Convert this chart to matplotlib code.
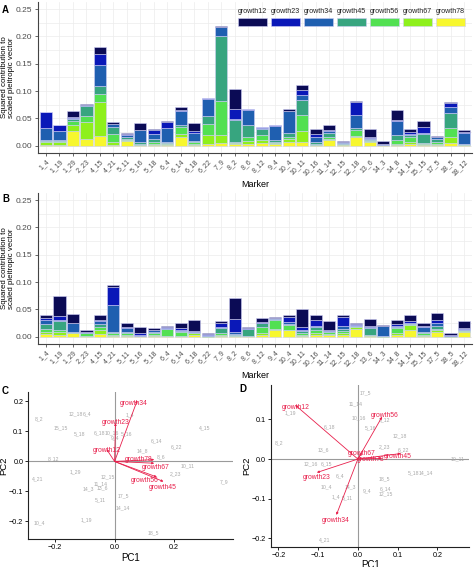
import numpy as np
import matplotlib
matplotlib.use('Agg')
import matplotlib.pyplot as plt
from matplotlib.patches import Rectangle
from matplotlib.ticker import MultipleLocator

plt.rcParams['font.family'] = ['Liberation Sans', 'DejaVu Sans']

markers = ['1_4', '1_19', '1_29', '2_23', '4_15', '4_21', '5_11', '5_16', '5_18', '6_4',
           '6_14', '6_18', '6_22', '7_9', '8_2', '8_6', '8_12', '9_4', '10_4', '10_11',
           '10_16', '11_14', '12_15', '12_18', '13_6', '14_3', '14_8', '14_14', '15_15',
           '17_5', '18_5', '18_12']
growth_names = ['growth12', 'growth23', 'growth34', 'growth45', 'growth56', 'growth67', 'growth78']
growth_cols = ['#0b0b55', '#0a18b8', '#1f5fb0', '#37a57f', '#52e052', '#8ef01c', '#f7f72e']

# panel A: squared contributions
a_g12 = [.001, .001, .011, .002, .013, .003, .002, .012, .003, .002, .006, .015, .001, .001, .036, .001,
         .001, .001, .004, .009, .008, .010, .001, .001, .015, .005, .019, .005, .010, .002, .002, .003]
a_g23 = [.028, .010, .002, .001, .021, .001, .001, .001, .007, .011, .001, .003, .002, .001, .018, .002,
         .001, .001, .001, .010, .006, .001, .001, .024, .002, .001, .001, .003, .011, .001, .007, .002]
a_g34 = [.022, .017, .002, .002, .038, .005, .004, .021, .008, .024, .027, .016, .030, .016, .002, .028,
         .002, .026, .040, .008, .010, .003, .001, .024, .002, .001, .027, .003, .002, .003, .012, .020]
a_g45 = [.002, .001, .004, .018, .015, .012, .004, .003, .006, .003, .002, .002, .016, .120, .040, .021,
         .012, .003, .008, .027, .002, .008, .001, .003, .002, .0005, .009, .003, .017, .005, .027, .001]
a_g56 = [.002, .002, .008, .010, .014, .015, .001, .002, .003, .002, .013, .002, .020, .061, .002, .008,
         .009, .002, .003, .030, .002, .003, .001, .012, .002, .0005, .006, .010, .002, .003, .017, .001]
a_g67 = [.005, .005, .010, .031, .062, .006, .002, .001, .002, .001, .006, .002, .016, .015, .002, .004,
         .005, .002, .005, .020, .001, .003, .002, .001, .001, .0005, .002, .003, .001, .002, .010, .001]
a_g78 = [.002, .002, .027, .013, .018, .001, .0085, .001, .002, .0015, .016, .002, .003, .005, .003, .004,
         .005, .003, .007, .007, .001, .010, .001, .016, .007, .0005, .002, .003, .0015, .002, .005, .0005]

# panel B
b_g12 = [.006, .036, .016, .003, .009, .002, .009, .012, .003, .002, .009, .020, .002, .002, .039, .001,
         .008, .001, .004, .033, .008, .017, .003, .002, .012, .002, .006, .012, .006, .012, .005, .013]
b_g23 = [.003, .008, .001, .001, .002, .034, .001, .003, .001, .002, .004, .001, .0005, .008, .024, .001,
         .001, .001, .009, .005, .012, .001, .017, .001, .002, .001, .005, .002, .002, .006, .001, .002]
b_g34 = [.008, .001, .016, .001, .006, .050, .008, .001, .003, .001, .002, .001, .002, .002, .003, .001,
         .001, .002, .004, .003, .001, .001, .006, .002, .002, .018, .002, .001, .010, .006, .0003, .001]
b_g45 = [.009, .017, .001, .001, .006, .002, .002, .0005, .003, .001, .001, .001, .001, .010, .001, .012,
         .008, .001, .002, .003, .006, .001, .004, .001, .012, .0005, .001, .001, .002, .004, .0003, .001]
b_g56 = [.005, .004, .001, .004, .005, .002, .002, .0005, .003, .012, .007, .001, .0003, .003, .002, .001,
         .010, .017, .008, .003, .005, .004, .004, .001, .001, .0003, .010, .002, .003, .003, .0003, .001]
b_g67 = [.004, .005, .001, .001, .007, .002, .002, .0005, .002, .001, .001, .002, .0003, .001, .001, .0005,
         .003, .002, .001, .002, .003, .002, .002, .003, .001, .0003, .003, .010, .001, .003, .0003, .002]
b_g78 = [.005, .003, .006, .001, .005, .002, .002, .0005, .001, .001, .001, .004, .0003, .002, .001, .0005,
         .004, .012, .012, .002, .004, .003, .004, .015, .002, .0003, .003, .012, .002, .009, .0003, .009]

# panel C biplot
c_pt_names = ['8_2', '12_18', '6_4', '15_15', '5_18', '6_18', '10_16', '5_16', '1_4', '9_4', '4_15',
              '6_14', '6_22', '14_8', '8_6', '8_12', '10_11', '2_23', '1_29', '4_21', '12_15',
              '11_14', '14_3', '13_6', '7_9', '5_11', '17_5', '14_14', '1_19', '10_4', '18_5']
c_pt_x = [-0.254, -0.13, -0.093, -0.18, -0.116, -0.049, -0.008, 0.04, 0.051, 0.003, 0.303,
          0.142, 0.207, 0.092, 0.157, -0.206, 0.244, 0.203, -0.133, -0.258, -0.024,
          -0.047, -0.089, -0.041, 0.367, -0.049, 0.029, 0.029, -0.093, -0.252, 0.129]
c_pt_y = [0.142, 0.158, 0.158, 0.111, 0.091, 0.094, 0.094, 0.092, 0.156, 0.078, 0.111,
          0.069, 0.05, 0.036, 0.017, 0.01, -0.013, -0.042, -0.036, -0.058, -0.052,
          -0.073, -0.092, -0.087, -0.067, -0.128, -0.114, -0.153, -0.194, -0.203, -0.237]
c_arr_x = [-0.027, 0.003, 0.076, 0.164, 0.142, 0.133, 0.133]
c_arr_y = [0.041, 0.128, 0.203, -0.067, -0.052, -0.006, 0.006]
c_lab_x = [-0.028, 0.003, 0.064, 0.161, 0.100, 0.138, 0.081]
c_lab_y = [0.036, 0.128, 0.194, -0.086, -0.064, -0.019, 0.006]

# panel D biplot
d_pt_names = ['17_5', '11_14', '1_19', '10_16', '8_12', '6_18', '5_16', '12_18', '8_2', '13_6',
              '2_23', '6_22', '12_16', '6_15', '10_11', '5_18', '14_14', '6_4', '10_4', '14_3',
              '9_4', '18_5', '6_14', '12_15', '1_4', '5_11', '4_21']
d_pt_x = [0.019, -0.006, -0.17, 0.003, 0.066, -0.071, 0.032, 0.105, -0.197, -0.086,
          0.066, 0.114, -0.118, -0.079, 0.25, 0.14, 0.17, -0.045, -0.079, -0.02,
          0.024, 0.066, 0.07, 0.07, -0.056, -0.027, -0.084]
d_pt_y = [0.167, 0.139, 0.117, 0.103, 0.1, 0.082, 0.08, 0.058, 0.041, 0.024,
          0.031, 0.023, -0.013, -0.013, 0.0, -0.034, -0.034, -0.043, -0.071, -0.07,
          -0.08, -0.049, -0.074, -0.088, -0.095, -0.097, -0.204]
d_arr_x = [-0.157, -0.103, -0.054, 0.108, 0.061, 0.010, 0.060]
d_arr_y = [0.136, -0.034, -0.141, 0.014, 0.107, 0.016, 0.002]
d_lab_x = [-0.157, -0.103, -0.056, 0.100, 0.068, 0.010, 0.032]
d_lab_y = [0.130, -0.047, -0.154, 0.006, 0.110, 0.013, -0.001]

red = '#e8204c'
grey_txt = '#a8a8a8'


def bar_panel(ax, series):
    x = np.arange(len(markers))
    bottom = np.zeros(len(markers))
    # growth78 sits at the bottom of each stack
    for vals, col in reversed(list(zip(series, growth_cols))):
        ax.bar(x, vals, 0.9, bottom=bottom, color=col, edgecolor='#cfcff5', linewidth=0.4, zorder=2)
        bottom += np.array(vals)
    ax.set_xlim(-0.6, len(markers) - 0.4)
    ax.set_ylim(-0.0125, 0.2625)
    ax.set_yticks([0, 0.05, 0.10, 0.15, 0.20, 0.25])
    ax.set_yticklabels(['0.00', '0.05', '0.10', '0.15', '0.20', '0.25'])
    ax.yaxis.set_minor_locator(MultipleLocator(0.025))
    ax.set_xticks(x)
    ax.set_xticklabels(markers, rotation=45, ha='right', rotation_mode='anchor', fontsize=5, color='#4d4d4d')
    ax.tick_params(axis='y', labelsize=6, colors='#4d4d4d', length=2.5, width=0.6, pad=1.5)
    ax.tick_params(axis='x', length=2.5, width=0.6, colors='#4d4d4d', pad=1.5)
    ax.tick_params(which='minor', length=0)
    ax.grid(which='both', color='#ececec', linewidth=0.5, zorder=0)
    ax.set_axisbelow(True)
    for s in ['top', 'right']:
        ax.spines[s].set_visible(False)
    for s in ['left', 'bottom']:
        ax.spines[s].set_color('#444444')
        ax.spines[s].set_linewidth(0.8)
    ax.set_ylabel('Squared contribution to\nscaled pleitropic vector', fontsize=5.7, linespacing=0.95)
    ax.yaxis.set_label_coords(-0.053, 0.5)
    ax.set_xlabel('Marker', fontsize=6.5, labelpad=2)


def biplot(ax, px, py, names, ax_x, ax_y, lx, ly):
    ax.axhline(0, color='#9a9a9a', lw=0.8, zorder=0)
    ax.axvline(0, color='#9a9a9a', lw=0.8, zorder=0)
    for x, y, n in zip(px, py, names):
        ax.text(x, y, n, fontsize=3.7, color=grey_txt, ha='center', va='center')
    for i, g in enumerate(growth_names):
        ax.annotate('', xy=(ax_x[i], ax_y[i]), xytext=(0, 0),
                    arrowprops=dict(arrowstyle='-|>', color=red, lw=0.6, mutation_scale=3,
                                    shrinkA=0, shrinkB=0))
        ax.text(lx[i], ly[i], g, fontsize=4.9, color=red, ha='center', va='center')
    for s in ['top', 'right']:
        ax.spines[s].set_visible(False)
    for s in ['left', 'bottom']:
        ax.spines[s].set_color('#222222')
        ax.spines[s].set_linewidth(0.8)
    ax.tick_params(labelsize=5.2, length=2.5, width=0.6, pad=1.2)
    ax.set_xlabel('PC1', fontsize=7, labelpad=1)
    ax.set_ylabel('PC2', fontsize=6.8)


fig = plt.figure(figsize=(4.74, 5.67), dpi=100)

ax_a = fig.add_axes([0.080, 0.731, 0.916, 0.265])
bar_panel(ax_a, [a_g12, a_g23, a_g34, a_g45, a_g56, a_g67, a_g78])

# legend: labels above colour keys
for i, (g, c) in enumerate(zip(growth_names, growth_cols)):
    kx = 0.461 + i * 0.076
    ax_a.add_patch(Rectangle((kx, 0.84), 0.067, 0.054, transform=ax_a.transAxes,
                             facecolor=c, edgecolor='#cfcff5', linewidth=0.4, zorder=5))
    ax_a.text(kx + 0.0335, 0.94, g, transform=ax_a.transAxes, fontsize=5.1,
              ha='center', va='center', color='#222222')

ax_b = fig.add_axes([0.080, 0.394, 0.916, 0.265])
bar_panel(ax_b, [b_g12, b_g23, b_g34, b_g45, b_g56, b_g67, b_g78])

ax_c = fig.add_axes([0.060, 0.049, 0.432, 0.259])
biplot(ax_c, c_pt_x, c_pt_y, c_pt_names, c_arr_x, c_arr_y, c_lab_x, c_lab_y)
ax_c.set_xlim(-0.289, 0.398)
ax_c.set_ylim(-0.259, 0.23)
ax_c.set_xticks([-0.2, 0.0, 0.2])
ax_c.set_yticks([-0.2, -0.1, 0.0, 0.1, 0.2])
ax_c.yaxis.set_label_coords(-0.098, 0.5)

ax_d = fig.add_axes([0.572, 0.036, 0.418, 0.285])
biplot(ax_d, d_pt_x, d_pt_y, d_pt_names, d_arr_x, d_arr_y, d_lab_x, d_lab_y)
ax_d.set_xlim(-0.218, 0.28)
ax_d.set_ylim(-0.221, 0.187)
ax_d.set_xticks([-0.2, -0.1, 0.0, 0.1, 0.2])
ax_d.set_yticks([-0.2, -0.1, 0.0, 0.1])
ax_d.yaxis.set_label_coords(-0.1, 0.5)

fig.text(0.004, 0.992, 'A', fontsize=7, fontweight='bold', va='top')
fig.text(0.004, 0.657, 'B', fontsize=7, fontweight='bold', va='top')
fig.text(0.004, 0.320, 'C', fontsize=7, fontweight='bold', va='top')
fig.text(0.506, 0.322, 'D', fontsize=7, fontweight='bold', va='top')

fig.savefig('out.png', dpi=100)
